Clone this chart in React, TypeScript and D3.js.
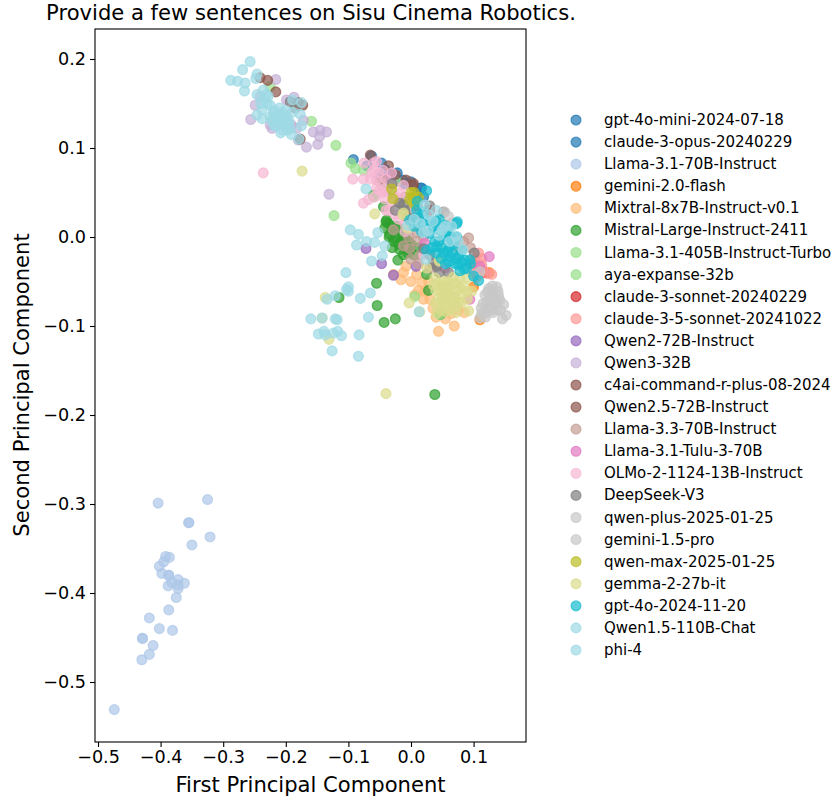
import { useEffect, useRef } from "react";
import * as d3 from "d3";

type Pt = [number, number];

const names = [
  "gpt-4o-mini-2024-07-18", "claude-3-opus-20240229", "Llama-3.1-70B-Instruct", "gemini-2.0-flash",
  "Mixtral-8x7B-Instruct-v0.1", "Mistral-Large-Instruct-2411", "Llama-3.1-405B-Instruct-Turbo", "aya-expanse-32b",
  "claude-3-sonnet-20240229", "claude-3-5-sonnet-20241022", "Qwen2-72B-Instruct", "Qwen3-32B",
  "c4ai-command-r-plus-08-2024", "Qwen2.5-72B-Instruct", "Llama-3.3-70B-Instruct", "Llama-3.1-Tulu-3-70B",
  "OLMo-2-1124-13B-Instruct", "DeepSeek-V3", "qwen-plus-2025-01-25", "gemini-1.5-pro",
  "qwen-max-2025-01-25", "gemma-2-27b-it", "gpt-4o-2024-11-20", "Qwen1.5-110B-Chat", "phi-4",
];
const colors = [
  "#1f77b4", "#1f77b4", "#aec7e8", "#ff7f0e", "#ffbb78", "#2ca02c", "#98df8a", "#98df8a",
  "#d62728", "#ff9896", "#9467bd", "#c5b0d5", "#8c564b", "#8c564b", "#c49c94", "#e377c2",
  "#f7b6d2", "#7f7f7f", "#c7c7c7", "#c7c7c7", "#bcbd22", "#dbdb8d", "#17becf", "#9edae5", "#9edae5",
];

const gpt4oMini: Pt[] = [
  [-0.092, 0.087], [-0.063, 0.091], [-0.022, 0.072], [0.017, 0.055], [-0.04, 0.075], [-0.03, 0.07], [-0.01, 0.06],
];
const claudeOpus: Pt[] = [
  [-0.047, 0.083], [-0.013, 0.064], [0.015, 0.055], [-0.07, 0.08], [0.0, 0.062], [-0.05, 0.07], [0.01, 0.05], [0.02, 0.045],
];
const llama70: Pt[] = [
  [-0.404, -0.299], [-0.325, -0.295], [-0.355, -0.321], [-0.355, -0.321], [-0.321, -0.337], [-0.35, -0.346],
  [-0.392, -0.359], [-0.386, -0.36], [-0.395, -0.365], [-0.402, -0.37], [-0.398, -0.378], [-0.387, -0.38],
  [-0.387, -0.38], [-0.372, -0.385], [-0.362, -0.389], [-0.382, -0.388], [-0.388, -0.392], [-0.372, -0.391],
  [-0.372, -0.395], [-0.375, -0.405], [-0.387, -0.419], [-0.418, -0.428], [-0.402, -0.44], [-0.381, -0.442],
  [-0.429, -0.451], [-0.429, -0.451], [-0.412, -0.459], [-0.418, -0.469], [-0.43, -0.475], [-0.474, -0.531],
];
const gemini20: Pt[] = [[0.1, -0.056], [0.125, -0.04], [0.11, -0.093]];
const mixtral: Pt[] = [
  [0.044, -0.106], [0.069, -0.1], [0.064, -0.086], [-0.008, -0.033], [-0.012, -0.04], [-0.016, -0.048],
  [-0.028, -0.042], [0.006, -0.065], [0.017, -0.051], [0.022, -0.061], [0.05, -0.085], [0.075, -0.082],
  [0.035, -0.08], [0.03, -0.07], [0.0, -0.05], [0.009, -0.042], [0.04, -0.09], [0.055, -0.092], [0.085, -0.085],
  [0.012, -0.06], [0.028, -0.05], [0.02, -0.07],
];
const mistral: Pt[] = [
  [-0.021, -0.026], [-0.036, 0.015], [-0.04, 0.017], [-0.026, 0.006], [-0.028, -0.005], [-0.015, -0.003],
  [-0.01, -0.012], [-0.005, -0.018], [-0.055, -0.052], [-0.054, -0.077], [-0.043, -0.096], [-0.025, -0.092],
  [-0.115, -0.068], [0.038, -0.177], [0.028, -0.06], [0.025, -0.042], [0.047, -0.087], [-0.002, -0.015],
  [-0.044, 0.034], [-0.039, 0.019], [-0.026, -0.001], [-0.013, -0.003], [-0.06, 0.047], [-0.03, 0.012],
  [-0.02, 0.008], [-0.034, 0.003], [-0.018, -0.014], [0.005, -0.02], [0.0, -0.008], [-0.035, 0.0], [-0.02, -0.008],
  [-0.012, -0.02], [-0.042, 0.01], [-0.03, -0.012], [-0.01, 0.0], [-0.004, -0.005], [-0.022, 0.012], [0.012, -0.012],
];
const llama405: Pt[] = [
  [-0.096, 0.083], [-0.089, 0.077], [-0.076, 0.075], [-0.023, 0.062], [-0.045, 0.055], [-0.06, 0.045],
  [-0.222, 0.131], [-0.225, 0.169],
];
const aya: Pt[] = [[-0.12, 0.103], [-0.159, 0.13], [-0.123, 0.024], [-0.03, 0.05], [0.006, -0.067], [0.046, -0.087]];
const claudeSonnet: Pt[] = [[0.1, -0.03], [0.118, -0.04], [0.03, 0.03]];
const claude35: Pt[] = [
  [0.113, -0.024], [0.113, -0.031], [0.102, -0.024], [0.129, -0.042], [0.105, -0.033], [0.115, -0.037],
  [0.122, -0.041], [0.108, -0.018], [0.098, -0.04], [0.105, -0.045],
];
const qwen272: Pt[] = [[-0.032, 0.068], [-0.072, -0.013], [-0.047, -0.03], [-0.028, -0.043], [0.008, -0.033]];
const qwen3: Pt[] = [
  [-0.216, 0.177], [-0.249, 0.148], [-0.256, 0.132], [-0.222, 0.122], [-0.187, 0.157], [-0.199, 0.154],
  [-0.156, 0.118], [-0.145, 0.12], [-0.135, 0.118], [-0.146, 0.113], [-0.149, 0.104], [-0.167, 0.101],
  [-0.18, 0.109], [-0.172, 0.131], [-0.191, 0.126], [-0.183, 0.122], [-0.241, 0.158], [-0.225, 0.126],
  [-0.199, 0.135], [-0.131, 0.048],
];
const c4ai: Pt[] = [[-0.229, 0.176], [-0.216, 0.163], [-0.065, 0.092], [-0.036, 0.08], [0.004, 0.06], [-0.025, 0.07]];
const qwen25: Pt[] = [[-0.173, 0.148], [-0.177, 0.11], [-0.241, 0.179], [-0.18, 0.151], [-0.008, 0.064], [0.003, 0.058], [-0.045, 0.065]];
const llama33: Pt[] = [
  [0.092, -0.001], [0.084, -0.005], [0.009, -0.005], [-0.002, -0.013], [-0.028, 0.008], [-0.05, 0.062],
  [0.0, 0.03], [0.015, -0.02], [0.075, -0.012], [0.095, -0.012], [-0.04, 0.052], [-0.02, 0.04], [-0.01, 0.045],
  [0.0, 0.02], [0.01, 0.005], [0.02, 0.0], [-0.012, -0.01], [-0.004, 0.0], [0.0, -0.025], [0.012, -0.03], [0.03, -0.035],
];
const tulu: Pt[] = [[0.125, -0.022], [0.11, -0.033], [0.094, -0.07], [0.054, -0.035], [0.022, -0.007]];
const olmo: Pt[] = [
  [-0.093, 0.065], [-0.075, 0.083], [-0.06, 0.083], [-0.051, 0.072], [-0.076, 0.065], [-0.065, 0.065],
  [-0.055, 0.064], [-0.076, 0.038], [-0.068, 0.042], [-0.058, 0.045], [-0.042, 0.043], [-0.031, 0.072],
  [-0.018, 0.049], [-0.031, 0.038], [-0.063, 0.072], [-0.012, 0.058], [-0.01, 0.006], [-0.02, 0.02],
  [-0.01, 0.015], [0.02, -0.02], [-0.236, 0.072], [-0.05, 0.052], [-0.045, 0.05], [-0.06, 0.075], [-0.055, 0.085],
  [-0.04, 0.055], [-0.035, 0.03], [-0.025, 0.025], [-0.04, 0.03], [-0.045, 0.075], [-0.04, 0.065], [-0.03, 0.058],
  [-0.055, 0.055], [-0.025, 0.045],
];
const deepseek: Pt[] = [
  [-0.193, 0.152], [-0.185, 0.145], [0.101, -0.018], [-0.012, 0.036], [0.041, -0.033], [0.02, -0.013],
  [-0.018, 0.038], [0.052, 0.028], [0.035, -0.03], [0.01, 0.02], [-0.03, 0.06],
  [-0.025, 0.03], [-0.01, 0.03], [-0.005, 0.022], [0.01, 0.035], [0.03, 0.035],
  [0.03, -0.02], [0.045, -0.04], [0.06, -0.04],
];
const qwenPlus: Pt[] = [
  [0.137, -0.056], [0.124, -0.058], [0.118, -0.065], [0.131, -0.065], [0.142, -0.071], [0.148, -0.076],
  [0.129, -0.074], [0.121, -0.073], [0.137, -0.082], [0.126, -0.06], [0.139, -0.061], [0.126, -0.08],
  [0.122, -0.062], [0.128, -0.068], [0.134, -0.07], [0.13, -0.055], [0.12, -0.08], [0.125, -0.072],
];
const gemini15: Pt[] = [
  [0.113, -0.086], [0.118, -0.086], [0.152, -0.088], [0.146, -0.092], [0.11, -0.091], [0.131, -0.085],
  [0.054, 0.028], [0.06, 0.023], [0.11, -0.039], [0.066, 0.016], [0.136, -0.075], [0.14, -0.066], [0.115, -0.075],
  [0.128, -0.082], [0.143, -0.082], [0.119, -0.09], [0.112, -0.08],
];
const qwenMax: Pt[] = [
  [0.003, 0.045], [-0.002, 0.042], [0.008, 0.04], [0.0, 0.05], [-0.031, 0.054], [-0.029, 0.043],
  [0.005, 0.05], [0.012, 0.045], [0.004, 0.038],
];
const gemma: Pt[] = [
  [-0.058, 0.026], [-0.174, 0.074], [-0.04, -0.176], [-0.137, -0.068], [-0.131, -0.115], [-0.142, -0.091],
  [-0.003, -0.074], [0.014, -0.084], [0.038, -0.046], [0.052, -0.05], [0.068, -0.045], [0.089, -0.046],
  [0.078, -0.046], [0.046, -0.06], [0.062, -0.056], [0.078, -0.057], [0.044, -0.069], [0.057, -0.065],
  [0.07, -0.067], [0.038, -0.074], [0.052, -0.076], [0.065, -0.074], [0.076, -0.073], [0.092, -0.083],
  [0.089, -0.061], [0.097, -0.061], [0.025, -0.035], [0.045, -0.027], [0.041, -0.086], [0.062, -0.082],
  [0.073, -0.078], [0.081, -0.065], [0.05, -0.066], [0.055, -0.07], [0.06, -0.062], [0.066, -0.052],
  [-0.012, 0.027], [0.046, -0.026], [-0.013, 0.025], [-0.005, 0.01], [0.043, -0.052], [0.048, -0.055],
  [0.055, -0.055], [0.058, -0.05], [0.072, -0.052], [0.074, -0.06], [0.085, -0.055], [0.04, -0.06], [0.036, -0.054],
  [0.05, -0.072], [0.058, -0.078], [0.068, -0.072], [0.064, -0.066], [0.048, -0.082], [0.056, -0.084], [0.042, -0.078],
  [0.08, -0.074], [0.072, -0.085], [0.09, -0.07],
];
const gpt4o: Pt[] = [
  [0.025, 0.052], [0.073, 0.015], [0.074, 0.017], [0.009, 0.03], [-0.002, 0.019], [0.017, 0.006],
  [0.035, 0.012], [0.054, 0.013], [0.052, 0.0], [0.041, -0.011], [0.062, -0.022], [0.076, -0.031],
  [0.089, -0.035], [0.086, -0.026], [0.108, -0.049], [0.025, -0.015], [0.052, -0.018], [0.062, -0.011],
  [0.076, -0.022], [0.038, -0.005], [0.019, 0.016], [0.03, 0.004], [0.062, 0.0], [0.073, 0.0],
  [0.081, -0.015], [0.094, -0.026], [0.045, 0.008], [0.068, -0.008], [0.07, -0.03], [0.055, -0.03],
  [0.045, -0.005], [0.05, -0.012], [0.058, -0.016], [0.066, -0.018], [0.072, -0.024], [0.08, -0.028], [0.06, -0.028],
  [0.048, -0.024], [0.04, -0.018], [0.034, -0.012], [0.065, -0.002], [0.055, 0.005], [0.04, 0.018], [0.03, 0.018],
  [0.02, 0.028], [0.012, 0.022], [0.005, 0.012], [0.01, 0.04], [0.085, -0.036], [0.078, -0.038], [0.095, -0.03],
  [0.1, -0.044], [0.045, 0.02], [0.06, 0.01],
];
const qwen15: Pt[] = [
  [-0.257, 0.197], [-0.269, 0.188], [-0.288, 0.176], [-0.277, 0.175], [-0.265, 0.173], [-0.266, 0.164],
  [-0.246, 0.183], [-0.248, 0.178], [-0.236, 0.165], [-0.231, 0.16], [-0.246, 0.16], [-0.238, 0.143],
  [-0.238, 0.133], [-0.246, 0.137], [-0.177, 0.138], [-0.175, 0.125], [-0.208, 0.117], [-0.191, 0.115],
  [-0.179, 0.11], [-0.175, 0.151], [-0.189, 0.154], [-0.225, 0.148], [-0.22, 0.14], [-0.215, 0.135],
  [-0.21, 0.13], [-0.205, 0.14], [-0.2, 0.135], [-0.21, 0.145], [-0.195, 0.13], [-0.215, 0.125],
  [-0.2, 0.125], [-0.19, 0.14], [-0.225, 0.135], [-0.23, 0.15], [-0.218, 0.142], [-0.212, 0.138], [-0.208, 0.135],
  [-0.222, 0.13], [-0.206, 0.127], [-0.2, 0.142], [-0.198, 0.128], [-0.213, 0.131], [-0.218, 0.125], [-0.205, 0.12],
  [-0.197, 0.12], [-0.235, 0.155], [-0.24, 0.15], [-0.228, 0.158], [-0.193, 0.122],
];
const phi4: Pt[] = [
  [0.015, 0.015], [0.028, 0.025], [0.022, 0.036], [0.027, 0.007], [0.045, 0.002], [0.054, 0.012],
  [0.062, -0.005], [0.072, 0.001], [0.083, -0.014], [-0.005, 0.013], [0.024, -0.025], [0.013, -0.084],
  [-0.104, -0.04], [-0.063, -0.027], [-0.046, -0.021], [-0.1, -0.056], [-0.103, -0.059], [-0.1, -0.061],
  [-0.121, -0.066], [-0.134, -0.07], [-0.081, -0.069], [-0.065, -0.063], [-0.068, -0.09], [-0.16, -0.092],
  [-0.142, -0.091], [-0.121, -0.092], [-0.118, -0.093], [-0.139, -0.106], [-0.148, -0.109], [-0.137, -0.11],
  [-0.124, -0.108], [-0.117, -0.106], [-0.111, -0.111], [-0.083, -0.11], [-0.126, -0.128], [-0.084, -0.134],
  [-0.097, 0.008], [-0.084, 0.003], [-0.087, -0.009], [-0.071, -0.005], [-0.058, -0.006], [-0.053, 0.005],
  [-0.042, -0.01], [-0.072, 0.054], [0.035, 0.018], [0.05, 0.008], [0.04, 0.03], [0.065, 0.012], [0.005, 0.02],
  [0.02, 0.005], [0.075, -0.005],
];

const series = [
  gpt4oMini, claudeOpus, llama70, gemini20, mixtral, mistral, llama405, aya, claudeSonnet, claude35, qwen272, qwen3,
  c4ai, qwen25, llama33, tulu, olmo, deepseek, qwenPlus, gemini15, qwenMax, gemma, gpt4o, qwen15, phi4,
];

const xTicks = [-0.5, -0.4, -0.3, -0.2, -0.1, 0.0, 0.1];
const yTicks = [-0.5, -0.4, -0.3, -0.2, -0.1, 0.0, 0.1, 0.2];
const title = "Provide a few sentences on Sisu Cinema Robotics.";

export default function App() {
  const svgRef = useRef<SVGSVGElement>(null);

  useEffect(() => {
    if (!svgRef.current) return;
    const svg = d3.select(svgRef.current);
    svg.selectAll("*").remove();
    const font = "'DejaVu Sans', sans-serif";
    const left = 95, right = 526, top = 29, bottom = 742;

    const x = d3.scaleLinear().domain([-0.5048, 0.1837]).range([left, right]);
    const y = d3.scaleLinear().domain([-0.5674, 0.2337]).range([bottom, top]);
    const fmt = d3.format(".1f");

    const marker = (sel: any, color: string) =>
      sel.attr("r", 4.9).attr("fill", color).attr("stroke", color)
        .attr("fill-opacity", 0.7).attr("stroke-opacity", 0.7).attr("stroke-width", 1.3);

    series.forEach((pts, i) => {
      svg.append("g").selectAll("circle").data(pts).join("circle")
        .attr("cx", (d) => x(d[0])).attr("cy", (d) => y(d[1]))
        .call(marker, colors[i]);
    });

    svg.append("rect").attr("x", left).attr("y", top).attr("width", right - left).attr("height", bottom - top)
      .attr("fill", "none").attr("stroke", "#000").attr("stroke-width", 1.1);

    const gx = svg.append("g").attr("transform", `translate(0,${bottom})`)
      .call(d3.axisBottom(x).tickValues(xTicks).tickFormat((d) => fmt(d as number)).tickSize(5).tickPadding(4));
    const gy = svg.append("g").attr("transform", `translate(${left},0)`)
      .call(d3.axisLeft(y).tickValues(yTicks).tickFormat((d) => fmt(d as number)).tickSize(5).tickPadding(4));
    [gx, gy].forEach((g) => {
      g.select(".domain").remove();
      g.selectAll("text").attr("font-family", font).attr("font-size", 17.6).attr("fill", "#000");
      g.selectAll("line").attr("stroke", "#000").attr("stroke-width", 1.1);
    });

    svg.append("text").attr("x", 311).attr("y", 20).attr("text-anchor", "middle")
      .attr("font-family", font).attr("font-size", 21.1).text(title);
    svg.append("text").attr("x", 310.5).attr("y", 792).attr("text-anchor", "middle")
      .attr("font-family", font).attr("font-size", 21.1).text("First Principal Component");
    svg.append("text").attr("transform", "translate(29,385) rotate(-90)").attr("text-anchor", "middle")
      .attr("font-family", font).attr("font-size", 21.1).text("Second Principal Component");

    const legendY = d3.scalePoint<number>().domain(d3.range(names.length)).range([120, 650]);
    const legend = svg.append("g").selectAll("g").data(names).join("g")
      .attr("transform", (_, i) => `translate(576,${legendY(i)})`);
    legend.append("circle").each(function (_, i) {
      marker(d3.select(this), colors[i]);
    });
    legend.append("text").attr("x", 28).attr("y", 5).attr("font-family", font).attr("font-size", 15)
      .text((d) => d);
  }, []);

  return <svg ref={svgRef} width={835} height={803} style={{ position: "absolute", left: 0, top: 0 }} />;
}
